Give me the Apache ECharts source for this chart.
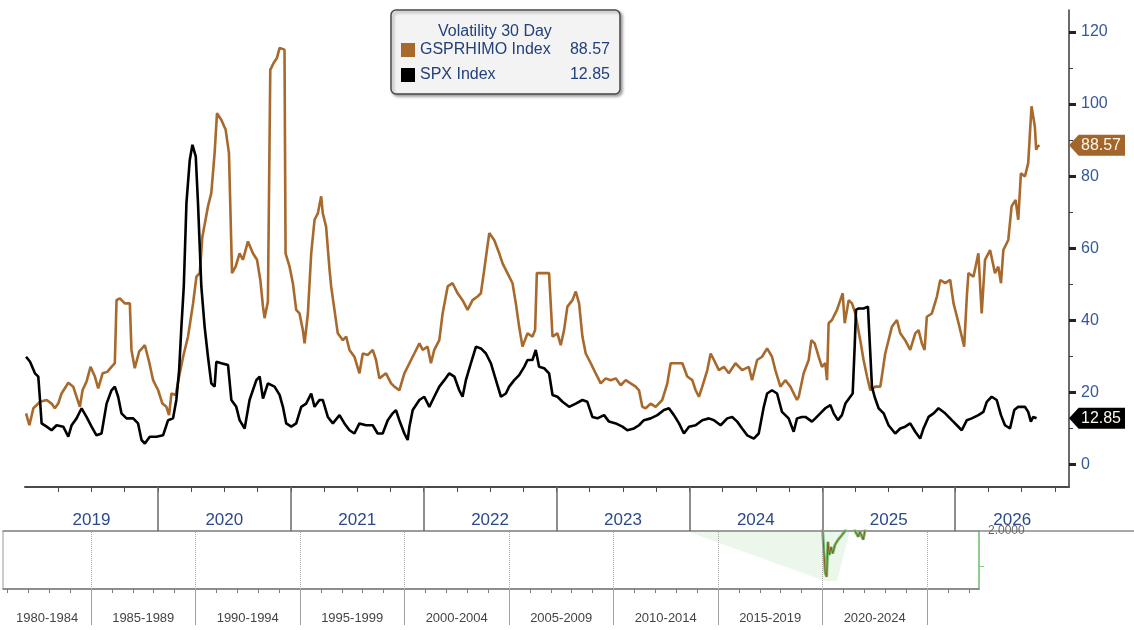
<!DOCTYPE html>
<html>
<head>
<meta charset="utf-8">
<script src="https://cdn.jsdelivr.net/npm/echarts@6/dist/echarts.min.js"></script>
<style>
  html, body { margin: 0; padding: 0; background: #fff; }
  #chart { width: 1134px; height: 630px; }
</style>
</head>
<body>
<div id="chart"></div>
<script>
// GSPRHIMO 30 day volatility (decimal year, value)
const gsprYears = [
  2019.008, 2019.033, 2019.063, 2019.113, 2019.163, 2019.200, 2019.225, 2019.250, 2019.275, 2019.326,
  2019.363, 2019.388, 2019.413, 2019.433, 2019.463, 2019.493, 2019.526, 2019.551, 2019.584, 2019.619,
  2019.651, 2019.676, 2019.689, 2019.714, 2019.751, 2019.789, 2019.801, 2019.826, 2019.859, 2019.902,
  2019.934, 2019.964, 2020.002, 2020.034, 2020.064, 2020.084, 2020.102, 2020.134, 2020.160, 2020.190,
  2020.227, 2020.265, 2020.290, 2020.315, 2020.335, 2020.377, 2020.402, 2020.427, 2020.445, 2020.478,
  2020.510, 2020.535, 2020.558, 2020.585, 2020.615, 2020.640, 2020.678, 2020.715, 2020.746, 2020.771,
  2020.791, 2020.803, 2020.828, 2020.846, 2020.871, 2020.896, 2020.916, 2020.953, 2020.961, 2020.991,
  2021.016, 2021.041, 2021.066, 2021.091, 2021.104, 2021.129, 2021.154, 2021.179, 2021.204, 2021.229,
  2021.241, 2021.266, 2021.292, 2021.304, 2021.329, 2021.354, 2021.392, 2021.417, 2021.442, 2021.479,
  2021.517, 2021.542, 2021.580, 2021.617, 2021.642, 2021.667, 2021.717, 2021.755, 2021.780, 2021.817,
  2021.855, 2021.893, 2021.930, 2021.968, 2021.993, 2022.030, 2022.055, 2022.080, 2022.118, 2022.143,
  2022.181, 2022.218, 2022.256, 2022.293, 2022.331, 2022.368, 2022.406, 2022.431, 2022.456, 2022.494,
  2022.531, 2022.569, 2022.594, 2022.631, 2022.669, 2022.694, 2022.719, 2022.744, 2022.782, 2022.819,
  2022.839, 2022.852, 2022.894, 2022.944, 2022.970, 2023.007, 2023.032, 2023.057, 2023.082, 2023.120,
  2023.145, 2023.170, 2023.195, 2023.220, 2023.258, 2023.295, 2023.333, 2023.370, 2023.408, 2023.446,
  2023.483, 2023.521, 2023.558, 2023.596, 2023.621, 2023.646, 2023.671, 2023.709, 2023.746, 2023.796,
  2023.834, 2023.859, 2023.897, 2023.947, 2023.984, 2024.022, 2024.047, 2024.072, 2024.097, 2024.135,
  2024.160, 2024.185, 2024.222, 2024.260, 2024.297, 2024.347, 2024.397, 2024.447, 2024.472, 2024.510,
  2024.547, 2024.585, 2024.622, 2024.647, 2024.685, 2024.722, 2024.760, 2024.810, 2024.823, 2024.860,
  2024.898, 2024.918, 2024.943, 2024.973, 2024.998, 2025.023, 2025.036, 2025.048, 2025.073, 2025.111,
  2025.136, 2025.154, 2025.169, 2025.199, 2025.224, 2025.249, 2025.286, 2025.311, 2025.337, 2025.362,
  2025.399, 2025.437, 2025.474, 2025.524, 2025.562, 2025.587, 2025.624, 2025.662, 2025.700, 2025.725,
  2025.750, 2025.770, 2025.787, 2025.825, 2025.863, 2025.888, 2025.925, 2025.963, 2025.988, 2026.020,
  2026.050, 2026.068, 2026.088, 2026.100, 2026.138, 2026.175, 2026.200, 2026.225, 2026.263, 2026.300,
  2026.325, 2026.345, 2026.363, 2026.400, 2026.425, 2026.455, 2026.475, 2026.495, 2026.525, 2026.550,
  2026.575, 2026.600, 2026.610, 2026.620, 2026.635
];
const gsprValues = [
  14.2, 10.9, 15.6, 17.4, 17.9, 16.9, 15.6, 16.9, 19.7, 22.7,
  21.6, 18.8, 16.0, 20.6, 23.0, 27.1, 24.4, 21.1, 25.3, 25.7,
  27.1, 28.1, 45.6, 46.1, 44.7, 44.7, 31.8, 26.7, 31.3, 33.1,
  28.5, 23.4, 20.6, 16.9, 16.0, 13.7, 19.7, 19.3, 24.4, 29.9,
  35.5, 44.7, 52.1, 53.1, 63.2, 71.6, 75.3, 86.4, 97.5, 95.6,
  92.9, 86.4, 53.1, 54.9, 58.6, 56.8, 61.9, 58.6, 56.8, 51.2,
  43.8, 40.6, 45.2, 109.5, 111.4, 112.8, 115.6, 115.1, 58.6, 54.9,
  50.3, 42.9, 41.9, 37.3, 33.6, 41.9, 58.6, 67.9, 69.7, 74.4,
  69.7, 66.0, 54.0, 49.4, 42.9, 36.4, 34.5, 35.5, 31.8, 29.9,
  25.3, 30.8, 30.4, 31.8, 29.0, 23.9, 25.3, 22.5, 21.6, 20.6,
  25.3, 28.1, 30.8, 33.6, 31.8, 32.7, 28.1, 31.8, 34.5, 41.9,
  49.4, 50.3, 47.5, 45.6, 42.9, 45.6, 46.6, 47.5, 54.0, 64.2,
  62.3, 58.6, 55.8, 53.1, 50.3, 44.7, 38.2, 32.7, 36.4, 35.5,
  37.3, 53.1, 53.1, 53.1, 35.5, 36.4, 33.1, 37.3, 43.8, 45.6,
  48.0, 44.7, 35.5, 30.8, 28.1, 25.3, 22.5, 23.9, 23.4, 23.9,
  22.0, 23.4, 22.5, 21.6, 20.6, 16.0, 15.6, 16.9, 16.0, 17.9,
  22.5, 28.1, 28.1, 28.1, 24.4, 23.4, 20.6, 18.8, 21.6, 26.2,
  30.8, 29.0, 26.2, 27.1, 25.3, 28.1, 26.2, 27.1, 23.4, 29.0,
  29.9, 32.2, 29.9, 26.2, 21.6, 23.4, 21.6, 17.9, 18.8, 25.3,
  29.0, 34.5, 33.6, 29.9, 27.1, 28.1, 23.4, 39.2, 40.1, 42.9,
  45.6, 47.5, 39.2, 45.6, 44.7, 41.9, 34.5, 29.0, 24.4, 20.6,
  21.6, 21.6, 30.8, 38.2, 40.1, 36.4, 34.5, 31.8, 36.4, 37.3,
  33.6, 31.8, 41.0, 41.9, 46.6, 51.2, 50.3, 51.2, 44.7, 40.1,
  35.5, 32.7, 46.6, 53.1, 52.1, 58.6, 41.9, 56.8, 59.5, 53.1,
  54.9, 50.3, 59.5, 62.3, 71.6, 73.4, 67.9, 80.8, 79.9, 83.6,
  99.4, 93.8, 87.3, 88.2, 88.57
];

// SPX 30 day volatility
const spxYears = [
  2019.008, 2019.038, 2019.075, 2019.100, 2019.113, 2019.125, 2019.163, 2019.200, 2019.238, 2019.288,
  2019.326, 2019.351, 2019.388, 2019.426, 2019.463, 2019.501, 2019.538, 2019.576, 2019.614, 2019.651,
  2019.676, 2019.701, 2019.726, 2019.764, 2019.814, 2019.851, 2019.877, 2019.902, 2019.939, 2019.989,
  2020.039, 2020.077, 2020.114, 2020.139, 2020.160, 2020.177, 2020.195, 2020.215, 2020.240, 2020.260,
  2020.285, 2020.302, 2020.327, 2020.352, 2020.377, 2020.402, 2020.427, 2020.440, 2020.478, 2020.528,
  2020.553, 2020.590, 2020.615, 2020.653, 2020.690, 2020.741, 2020.766, 2020.791, 2020.828, 2020.878,
  2020.916, 2020.941, 2020.966, 2021.004, 2021.041, 2021.079, 2021.116, 2021.154, 2021.179, 2021.216,
  2021.241, 2021.279, 2021.317, 2021.367, 2021.404, 2021.442, 2021.479, 2021.517, 2021.567, 2021.617,
  2021.654, 2021.692, 2021.730, 2021.767, 2021.792, 2021.817, 2021.855, 2021.880, 2021.893, 2021.918,
  2021.968, 2022.005, 2022.043, 2022.080, 2022.118, 2022.156, 2022.193, 2022.231, 2022.268, 2022.293,
  2022.318, 2022.356, 2022.394, 2022.431, 2022.469, 2022.506, 2022.544, 2022.582, 2022.619, 2022.644,
  2022.682, 2022.719, 2022.757, 2022.782, 2022.819, 2022.844, 2022.869, 2022.907, 2022.944, 2022.970,
  2023.007, 2023.045, 2023.095, 2023.145, 2023.195, 2023.232, 2023.270, 2023.308, 2023.358, 2023.395,
  2023.446, 2023.496, 2023.533, 2023.583, 2023.621, 2023.658, 2023.709, 2023.759, 2023.809, 2023.846,
  2023.884, 2023.922, 2023.959, 2023.997, 2024.047, 2024.097, 2024.147, 2024.185, 2024.235, 2024.285,
  2024.322, 2024.360, 2024.397, 2024.435, 2024.485, 2024.522, 2024.560, 2024.585, 2024.622, 2024.660,
  2024.697, 2024.747, 2024.785, 2024.810, 2024.847, 2024.873, 2024.923, 2024.948, 2024.985, 2025.023,
  2025.061, 2025.086, 2025.118, 2025.148, 2025.174, 2025.211, 2025.229, 2025.244, 2025.254, 2025.274,
  2025.311, 2025.344, 2025.354, 2025.374, 2025.394, 2025.424, 2025.462, 2025.499, 2025.549, 2025.587,
  2025.624, 2025.662, 2025.700, 2025.737, 2025.762, 2025.800, 2025.838, 2025.875, 2025.925, 2025.975,
  2026.013, 2026.050, 2026.088, 2026.125, 2026.175, 2026.213, 2026.238, 2026.275, 2026.313, 2026.345,
  2026.375, 2026.413, 2026.445, 2026.475, 2026.525, 2026.550, 2026.570, 2026.588, 2026.613
];
const spxValues = [
  29.9, 28.5, 25.3, 24.4, 17.9, 11.4, 10.5, 9.5, 10.9, 10.5,
  7.7, 10.9, 12.8, 15.6, 13.2, 10.5, 8.1, 8.6, 16.9, 20.6,
  21.6, 18.8, 14.2, 12.8, 12.8, 11.4, 6.8, 5.8, 7.7, 7.7,
  8.1, 12.3, 12.8, 17.9, 26.2, 38.2, 49.4, 72.5, 84.5, 88.7,
  85.5, 72.5, 49.4, 38.2, 29.9, 22.5, 21.6, 28.5, 28.1, 27.6,
  17.9, 16.0, 12.3, 10.0, 17.9, 23.4, 24.4, 18.3, 22.5, 21.6,
  19.3, 16.0, 11.4, 10.5, 11.4, 16.0, 16.9, 19.7, 16.0, 17.9,
  17.9, 13.2, 11.4, 13.7, 11.4, 9.5, 8.6, 11.4, 10.9, 10.9,
  8.6, 8.6, 12.3, 14.2, 15.1, 12.3, 8.6, 6.8, 10.5, 15.1,
  17.9, 18.8, 16.0, 18.8, 21.6, 23.4, 25.3, 24.4, 20.6, 18.8,
  23.4, 28.1, 32.7, 32.2, 30.8, 28.1, 23.4, 18.8, 19.7, 21.6,
  23.4, 24.8, 27.1, 29.0, 29.0, 31.8, 27.1, 26.7, 25.3, 19.3,
  18.8, 17.4, 16.0, 16.9, 17.9, 17.4, 13.2, 12.8, 13.7, 11.9,
  11.4, 10.5, 9.5, 10.0, 10.9, 12.3, 12.8, 13.7, 15.1, 15.6,
  13.7, 11.4, 8.6, 10.5, 10.9, 12.3, 12.8, 12.3, 10.9, 12.8,
  13.2, 11.9, 10.0, 8.1, 7.2, 8.6, 16.0, 19.7, 20.6, 19.7,
  14.6, 12.8, 9.1, 12.8, 13.2, 13.2, 11.9, 12.8, 14.2, 15.6,
  16.5, 14.2, 12.3, 13.7, 16.9, 18.8, 19.7, 32.7, 42.9, 43.3,
  43.3, 43.8, 36.4, 21.6, 18.8, 15.6, 14.2, 10.9, 8.6, 10.0,
  10.5, 11.4, 9.1, 7.2, 10.0, 13.2, 14.2, 15.6, 14.2, 12.3,
  10.9, 9.5, 12.3, 12.8, 13.7, 14.6, 17.4, 18.8, 17.9, 13.7,
  10.9, 10.0, 15.1, 16.0, 16.0, 14.6, 11.9, 13.2, 12.85
];

// axis marks
const yearBreaks = [2020, 2021, 2022, 2023, 2024, 2025, 2026];
const yearLabelAt = [2019.5, 2020.5, 2021.5, 2022.5, 2023.5, 2024.5, 2025.5, 2026.43];
const yMajor = [0, 20, 40, 60, 80, 100, 120];
const yMinor = [10, 30, 50, 70, 90, 110];

// strip from the overlapped chart underneath
const periodBreaks = [1985, 1990, 1995, 2000, 2005, 2010, 2015, 2020, 2025];
const periodLabelAt = [1982.9, 1987.5, 1992.5, 1997.5, 2002.5, 2007.5, 2012.5, 2017.5, 2022.5];
const shadeYears = [2013.47, 2020.12, 2020.69, 2021.32];
const shadeValues = [2.0, 1.931, 1.931, 2.0];
const stripYears = [2019.9, 2020.01, 2020.07, 2020.13, 2020.20, 2020.26, 2020.33, 2020.41, 2020.49, 2020.60,
  2020.75, 2020.92, 2021.08, 2021.3, 2021.56, 2021.71, 2021.79, 2021.95, 2022.03, 2022.2];
const stripValues = [2.03, 2.0, 1.971, 1.943, 1.937, 1.985, 1.967, 1.978, 1.969, 1.981,
  1.988, 1.994, 2.0, 2.03, 2.0, 1.992, 1.999, 1.988, 2.0, 2.03];

const X_MIN = 2019, X_MAX = 2026.857;
const Y_MIN = -6.24, Y_MAX = 126.1;
const S_MIN = 1980.79, S_MAX = 2027.49;
const BROWN = '#a8692c';
const AXIS_BLUE = '#34589c';
const LEGEND_TEXT = '#22407a';

const pairs = (xs, ys) => xs.map((x, i) => [x, ys[i]]);
const gsprLast = gsprValues[gsprValues.length - 1];
const spxLast = spxValues[spxValues.length - 1];
const lastOf = {'GSPRHIMO Index': gsprLast.toFixed(2), 'SPX Index': spxLast.toFixed(2)};

const quarterTicks = [];
for (let q = X_MIN + 0.25; q < X_MAX; q += 0.25) quarterTicks.push(q);
const stripYearTicks = [];
for (let y = 1981; y <= 2027; y++) stripYearTicks.push(y);

// value tag sitting on the right axis
function endTag(value, color) {
  return {
    silent: true,
    symbol: 'path://M0,10 L10,0 L58,0 L58,20 L10,20 Z',
    symbolSize: [56, 21],
    symbolOffset: [28, 0],
    itemStyle: {color: color},
    label: {
      show: true, position: 'inside', offset: [4, 0],
      color: '#fff7ea', fontSize: 16, fontFamily: 'Liberation Sans',
      formatter: value.toFixed(2)
    },
    data: [{coord: [X_MAX, value], value: value}]
  };
}

const chart = echarts.init(document.getElementById('chart'));
const option = {
  animation: false,
  backgroundColor: '#fff',
  textStyle: {fontFamily: 'Liberation Sans'},
  title: {
    text: 'Volatility 30 Day',
    left: 433, top: 19, z: 10,
    textStyle: {fontSize: 16, fontWeight: 'normal', color: LEGEND_TEXT}
  },
  legend: {
    data: ['GSPRHIMO Index', 'SPX Index'],
    orient: 'vertical',
    left: 391, top: 10, z: 5,
    padding: [32, 10, 11, 10],
    itemWidth: 14, itemHeight: 14, itemGap: 9,
    icon: 'rect',
    selectedMode: false,
    backgroundColor: '#f3f3f3',
    borderColor: '#4a4a4a', borderWidth: 1.5, borderRadius: 5,
    shadowColor: 'rgba(0,0,0,0.35)', shadowBlur: 3, shadowOffsetX: 2, shadowOffsetY: 2,
    formatter: name => `{n|${name}}{v|${lastOf[name]}}`,
    textStyle: {
      rich: {
        n: {width: 136, fontSize: 16, lineHeight: 18, color: LEGEND_TEXT},
        v: {width: 54, align: 'right', fontSize: 16, lineHeight: 18, color: LEGEND_TEXT}
      }
    }
  },
  grid: [
    {left: 25, right: 65, top: 10, bottom: 143, outerBoundsMode: 'none'},
    {left: 3, right: 155, top: 531, bottom: 41, show: true, borderColor: '#9a9a9a', borderWidth: 1, outerBoundsMode: 'none'},
    {left: 3, right: 0, top: 531, height: 1, outerBoundsMode: 'none'}
  ],
  xAxis: [
    {
      gridIndex: 0, type: 'value', position: 'bottom', min: X_MIN, max: X_MAX,
      axisLine: {onZero: false, lineStyle: {color: '#4a4a4a', width: 2}},
      axisTick: {customValues: quarterTicks, length: 5, lineStyle: {color: '#4a4a4a'}},
      axisLabel: {show: false},
      splitLine: {show: false}
    },
    {
      gridIndex: 0, type: 'value', position: 'bottom', min: X_MIN, max: X_MAX,
      axisLine: {show: false, onZero: false},
      axisTick: {customValues: yearBreaks, length: 44, lineStyle: {color: '#6a6a6a', width: 1.5}},
      axisLabel: {
        customValues: yearLabelAt, margin: 25,
        formatter: v => String(Math.floor(v)),
        fontSize: 17, color: '#2a4a88'
      },
      splitLine: {show: false}
    },
    {
      gridIndex: 1, type: 'value', position: 'bottom', min: S_MIN, max: S_MAX,
      axisLine: {onZero: false, lineStyle: {color: '#7a7a7a', width: 1.5}},
      axisTick: {customValues: stripYearTicks, length: 4, lineStyle: {color: '#7a7a7a'}},
      axisLabel: {show: false},
      splitLine: {show: false}
    },
    {
      gridIndex: 1, type: 'value', position: 'bottom', min: S_MIN, max: S_MAX,
      axisLine: {show: false, onZero: false},
      axisTick: {customValues: periodBreaks, length: 36, lineStyle: {color: '#a0a0a0', width: 1}},
      axisLabel: {
        customValues: periodLabelAt, margin: 23,
        formatter: v => { const s = Math.floor(v / 5) * 5; return s + '-' + (s + 4); },
        fontSize: 13, color: '#444'
      },
      splitLine: {show: false}
    },
    {
      gridIndex: 2, type: 'value', min: 0, max: 1, position: 'top',
      axisLine: {onZero: false, lineStyle: {color: '#8a8a8a', width: 1.5}},
      axisTick: {show: false}, axisLabel: {show: false}, splitLine: {show: false}
    }
  ],
  yAxis: [
    {
      gridIndex: 0, type: 'value', position: 'right', min: Y_MIN, max: Y_MAX,
      axisLine: {show: true, onZero: false, lineStyle: {color: '#3a3a3a', width: 1.5}},
      axisTick: {show: true, customValues: yMinor, length: 4, lineStyle: {color: '#3a3a3a'}},
      axisLabel: {customValues: yMajor, margin: 12, fontSize: 16, color: AXIS_BLUE},
      splitLine: {show: false}
    },
    {
      gridIndex: 0, type: 'value', position: 'right', min: Y_MIN, max: Y_MAX,
      axisLine: {show: false, onZero: false},
      axisTick: {show: true, customValues: yMajor, length: 7, lineStyle: {color: '#222', width: 3}},
      axisLabel: {show: false},
      splitLine: {show: false}
    },
    {
      gridIndex: 1, type: 'value', position: 'right', min: 1.92, max: 2.0,
      axisLine: {show: true, onZero: false, lineStyle: {color: '#7ccc7c', width: 1.5}},
      axisTick: {show: true, customValues: [1.952], length: 5, lineStyle: {color: '#7ccc7c'}},
      axisLabel: {customValues: [2.0], margin: 9, fontSize: 12, color: '#666', formatter: v => v.toFixed(4)},
      splitLine: {show: false}
    },
    {gridIndex: 2, type: 'value', show: false, min: 0, max: 1}
  ],
  series: [
    {
      name: 'GSPRHIMO Index', type: 'line',
      xAxisIndex: 0, yAxisIndex: 0,
      data: pairs(gsprYears, gsprValues),
      symbol: 'none', clip: false, z: 3,
      itemStyle: {color: BROWN},
      lineStyle: {color: BROWN, width: 2.6},
      markPoint: endTag(gsprLast, '#a2652a')
    },
    {
      name: 'SPX Index', type: 'line',
      xAxisIndex: 0, yAxisIndex: 0,
      data: pairs(spxYears, spxValues),
      symbol: 'none', clip: false, z: 4,
      itemStyle: {color: '#000'},
      lineStyle: {color: '#000', width: 2.6},
      markPoint: endTag(spxLast, '#000')
    },
    {
      type: 'line', xAxisIndex: 2, yAxisIndex: 2, silent: true,
      data: pairs(shadeYears, shadeValues),
      symbol: 'none',
      lineStyle: {width: 0, opacity: 0},
      areaStyle: {origin: 'end', color: 'rgba(140,210,140,0.25)'},
      markLine: {
        silent: true, symbol: 'none', label: {show: false},
        lineStyle: {type: 'dotted', color: '#a8a8a8', width: 1},
        data: periodBreaks.map(v => ({xAxis: v}))
      }
    },
    {
      type: 'line', xAxisIndex: 2, yAxisIndex: 2, silent: true,
      data: pairs(stripYears, stripValues),
      symbol: 'none',
      lineStyle: {color: '#6cc46c', width: 3}
    },
    {
      type: 'line', xAxisIndex: 2, yAxisIndex: 2, silent: true,
      data: pairs(stripYears, stripValues),
      symbol: 'none',
      lineStyle: {color: '#8b5a22', width: 1}
    }
  ]
};
chart.setOption(option);
window.addEventListener('resize', () => chart.resize());
</script>
</body>
</html>
